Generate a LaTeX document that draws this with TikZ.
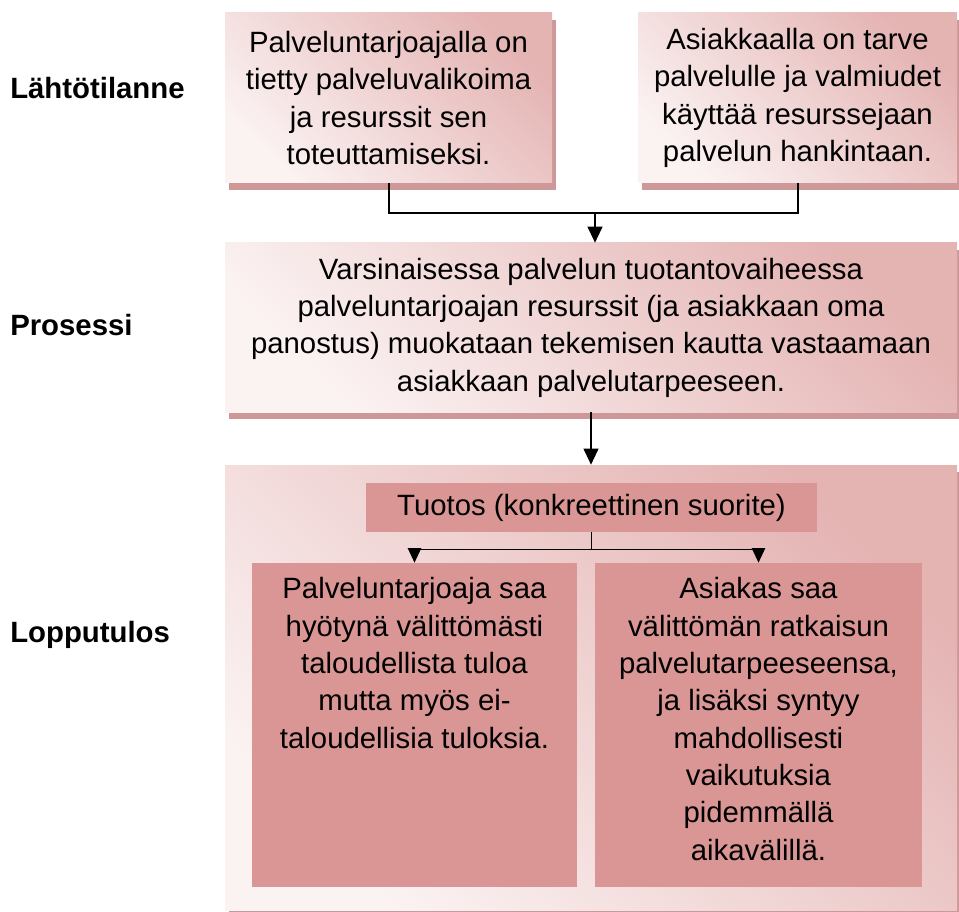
\documentclass[tikz,border=0pt]{standalone}
\usepackage{fontspec}
\setmainfont{Liberation Sans}
\usetikzlibrary{arrows.meta,positioning,shadows,calc}

\definecolor{boxlight}{RGB}{251,242,242}
\definecolor{boxdark}{RGB}{228,180,179}
\definecolor{subfill}{RGB}{218,150,148}
\definecolor{shadowpink}{RGB}{206,152,152}

\tikzset{
  bigbox/.style={inner sep=0pt, align=center, left color=boxlight, right color=boxdark, shading angle=135,
    drop shadow={shadow xshift=3pt, shadow yshift=-5pt, opacity=1, fill=shadowpink},
    font=\fontsize{22}{28}\selectfont},
  subbox/.style={inner sep=0pt, align=center, fill=subfill, font=\fontsize{22}{28}\selectfont},
  subtext/.style={inner sep=0pt, align=center, font=\fontsize{22}{28}\selectfont},
  phase/.style={anchor=west, inner sep=0pt, font=\fontsize{22}{28}\selectfont\bfseries},
  link/.style={line width=1.5pt},
  sublink/.style={line width=1.1pt}
}

\begin{document}
\begin{tikzpicture}[x=0.75pt, y=-0.75pt]
  \useasboundingbox (0,0) rectangle (959,912);

  % Starting point
  \node[bigbox, minimum width=245.25pt, minimum height=127.5pt] (provider) at (388.5,98)
    {Palveluntarjoajalla on\\tietty palveluvalikoima\\ja resurssit sen\\toteuttamiseksi.};
  \node[bigbox, minimum width=239.25pt, minimum height=127.5pt] (customer) at (797.5,98)
    {Asiakkaalla on tarve\\palvelulle ja valmiudet\\käyttää resurssejaan\\palvelun hankintaan.};

  % Process
  \node[bigbox, minimum width=549pt, minimum height=126.75pt] (process) at (591,327.5)
    {Varsinaisessa palvelun tuotantovaiheessa\\palveluntarjoajan resurssit (ja asiakkaan oma\\panostus) muokataan tekemisen kautta vastaamaan\\asiakkaan palvelutarpeeseen.};

  % Outcome
  \node[bigbox, minimum width=549pt, minimum height=333.75pt] (outcome) at (591,687.5) {};
  \node[subbox, minimum width=338.25pt, minimum height=36.75pt] (product) at (591.5,507.5)
    {Tuotos (konkreettinen suorite)};
  \node[subbox, minimum width=243.75pt, minimum height=243pt] (gain) at (414.5,725) {};
  \node[subbox, minimum width=245.25pt, minimum height=243pt] (solution) at (758.5,725) {};
  \node[subtext, below=11pt of gain.north] (gaintext)
    {Palveluntarjoaja saa\\hyötynä välittömästi\\taloudellista tuloa\\mutta myös ei-\\taloudellisia tuloksia.};
  \node[subtext, below=11pt of solution.north] (solutiontext)
    {Asiakas saa\\välittömän ratkaisun\\palvelutarpeeseensa,\\ja lisäksi syntyy\\mahdollisesti\\vaikutuksia\\pidemmällä\\aikavälillä.};

  % Phase labels
  \node[phase] (start) at (10,88) {Lähtötilanne};
  \node[phase] (proc) at (10,325) {Prosessi};
  \node[phase] (result) at (10,635) {Lopputulos};

  % Connectors
  \coordinate (join) at (595,213);
  \draw[link] (provider.south) |- (join) -| (customer.south);
  \draw[link, -{Triangle[length=12pt, width=11pt]}] (join) -- (join |- process.north);
  \draw[link, -{Triangle[length=12pt, width=11pt]}] (process.south) -- (outcome.north);

  \coordinate[below=12.75pt of product.south] (split);
  \draw[sublink] (product.south) -- (split);
  \draw[sublink, -{Triangle[length=11pt, width=10pt]}] (split) -| (gain.north);
  \draw[sublink, -{Triangle[length=11pt, width=10pt]}] (split) -| (solution.north);
\end{tikzpicture}
\end{document}
